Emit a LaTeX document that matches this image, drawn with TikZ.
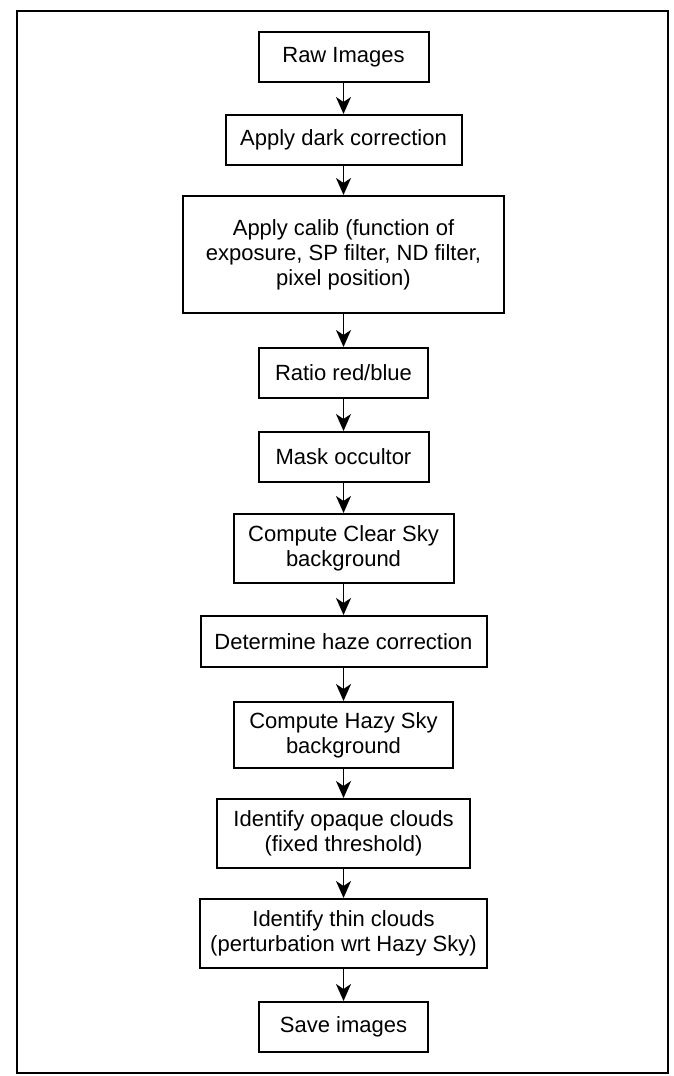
\documentclass[tikz,border=0pt]{standalone}
\usepackage{fontspec}
\setmainfont{Liberation Sans}
\usetikzlibrary{arrows.meta}
\begin{document}
\begin{tikzpicture}[x=1pt,y=-1pt,
  stepbox/.style={draw, line width=2pt, align=center, inner sep=0pt,
    font=\fontsize{22}{25}\selectfont, minimum height=#1},
  flow/.style={line width=1.8pt, -{Stealth[length=17pt,width=15pt,inset=5pt]}}]
\useasboundingbox (0,0) rectangle (674,1076);
\draw[line width=2pt] (17,11) rectangle (668,1073);
\node[stepbox=50pt, minimum width=170pt] (n1) at (343.5,57) {Raw Images};
\node[stepbox=50pt, minimum width=236pt] (n2) at (343.5,140) {Apply dark correction};
\node[stepbox=117pt, minimum width=321pt] (n3) at (343.5,254.5) {Apply calib (function of\\exposure, SP filter, ND filter,\\pixel position)};
\node[stepbox=50pt, minimum width=169pt] (n4) at (343.5,373) {Ratio red/blue};
\node[stepbox=50pt, minimum width=170pt] (n5) at (343.5,457) {Mask occultor};
\node[stepbox=69pt, minimum width=220pt] (n6) at (343.5,548.5) {Compute Clear Sky\\background};
\node[stepbox=51pt, minimum width=286pt] (n7) at (343.5,641.5) {Determine haze correction};
\node[stepbox=66pt, minimum width=219pt] (n8) at (343.5,735) {Compute Hazy Sky\\background};
\node[stepbox=69pt, minimum width=253pt] (n9) at (343.5,833.5) {Identify opaque clouds\\(fixed threshold)};
\node[stepbox=69pt, minimum width=287pt] (n10) at (343.5,933.5) {Identify thin clouds\\(perturbation wrt Hazy Sky)};
\node[stepbox=50pt, minimum width=169pt] (n11) at (343.5,1027) {Save images};
\foreach \a/\b in {n1/n2,n2/n3,n3/n4,n4/n5,n5/n6,n6/n7,n7/n8,n8/n9,n9/n10,n10/n11}
  \draw[flow] (\a) -- (\b);
\end{tikzpicture}
\end{document}
